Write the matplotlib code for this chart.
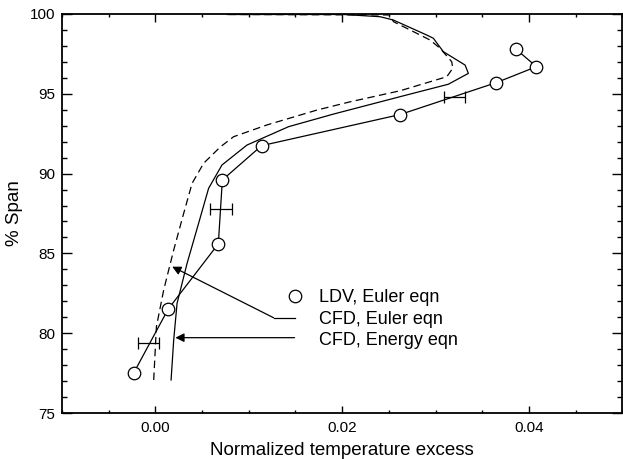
import matplotlib
matplotlib.use("Agg")
import matplotlib.pyplot as plt

plt.rcParams['font.family'] = ['Liberation Sans', 'DejaVu Sans']

# LDV measurements, Euler eqn
ldv_x = [-0.00233, 0.00136, 0.00674, 0.00717, 0.01137, 0.0262, 0.0365, 0.0408, 0.0386]
ldv_y = [77.5, 81.5, 85.6, 89.6, 91.75, 93.7, 95.7, 96.7, 97.8]

# horizontal error bars on the LDV curve
err_x = [-0.00075, 0.0070, 0.0320]
err_y = [79.36, 87.8, 94.83]
err_dx = [0.00115, 0.00115, 0.00115]

# CFD, Euler eqn (dashed)
euler_x = [-0.00018, 0.00011, 0.00089, 0.00196, 0.00303, 0.00393, 0.00517, 0.00695,
           0.00837, 0.01195, 0.01729, 0.02086, 0.0262, 0.0312, 0.03184, 0.03173,
           0.03048, 0.02941, 0.02549, 0.02513, 0.0077]
euler_y = [77.07, 80.41, 82.71, 85.21, 87.51, 89.39, 90.65, 91.67,
           92.31, 93.05, 93.98, 94.5, 95.19, 96.07, 96.6, 97.01,
           97.85, 98.37, 99.52, 99.94, 99.97]

# CFD, Energy eqn (solid)
energy_x = [0.00168, 0.00196, 0.00232, 0.00339, 0.00463, 0.0057, 0.00713, 0.00981,
            0.01426, 0.01907, 0.0262, 0.03137, 0.03351, 0.03316, 0.03083, 0.02976,
            0.02906, 0.02549, 0.02406, 0.02014, 0.0077]
energy_y = [77.07, 79.57, 81.87, 84.37, 86.89, 89.08, 90.54, 91.79,
            92.94, 93.73, 94.82, 95.6, 96.28, 96.8, 97.64, 98.48,
            98.68, 99.62, 99.83, 99.97, 99.97]

labels = ["LDV, Euler eqn", "CFD, Euler eqn", "CFD, Energy eqn"]

fig = plt.figure(figsize=(6.23, 4.59), dpi=100)
ax = fig.add_axes([0.0995, 0.1002, 0.8995, 0.8693])

lw = 0.9
ax.plot(euler_x, euler_y, color='k', lw=lw, dashes=(6, 3.5))
ax.plot(energy_x, energy_y, color='k', lw=lw)
ax.errorbar(err_x, err_y, xerr=err_dx, fmt='none', ecolor='k', elinewidth=lw,
            capsize=4.5, capthick=lw)
ax.plot(ldv_x, ldv_y, color='k', lw=lw, marker='o', markersize=9,
        markerfacecolor='white', markeredgecolor='k', markeredgewidth=lw)

# hand-made legend with arrows pointing at the CFD curves
ax.plot([0.01497], [82.3], 'o', markersize=9, markerfacecolor='white',
        markeredgecolor='k', markeredgewidth=lw)
ax.text(0.01747, 82.25, labels[0], fontsize=13, va='center')
ax.text(0.01747, 80.87, labels[1], fontsize=13, va='center')
ax.text(0.01747, 79.53, labels[2], fontsize=13, va='center')

ax.plot([0.0149, 0.01265], [80.97, 80.97], color='k', lw=lw)
arrow = dict(arrowstyle='-|>', color='k', lw=lw, mutation_scale=13,
             shrinkA=0, shrinkB=0)
ax.annotate("", xy=(0.0018, 84.17), xytext=(0.01265, 80.97), arrowprops=arrow)
ax.annotate("", xy=(0.00214, 79.72), xytext=(0.0149, 79.72), arrowprops=arrow)

ax.set_xlim(-0.01, 0.05)
ax.set_ylim(75, 100)
ax.set_xticks([0.0, 0.02, 0.04])
ax.set_xticklabels(["0.00", "0.02", "0.04"])
ax.set_xticks([x * 0.005 - 0.01 for x in range(13)], minor=True)
ax.set_yticks([75, 80, 85, 90, 95, 100])
ax.set_yticks(range(75, 101), minor=True)

ax.tick_params(which='both', direction='in', top=True, right=True, labelsize=11, width=1)
ax.tick_params(axis='x', which='major', length=5.4, pad=6)
ax.tick_params(axis='x', which='minor', length=2.5)
ax.tick_params(axis='y', which='major', length=7.2, pad=5)
ax.tick_params(axis='y', which='minor', length=3.3)
for s in ax.spines.values():
    s.set_linewidth(1.3)

ax.set_xlabel("Normalized temperature excess", fontsize=13.5, labelpad=5)
ax.set_ylabel("% Span", fontsize=13.5, labelpad=5)

fig.savefig("out.png", dpi=100)
